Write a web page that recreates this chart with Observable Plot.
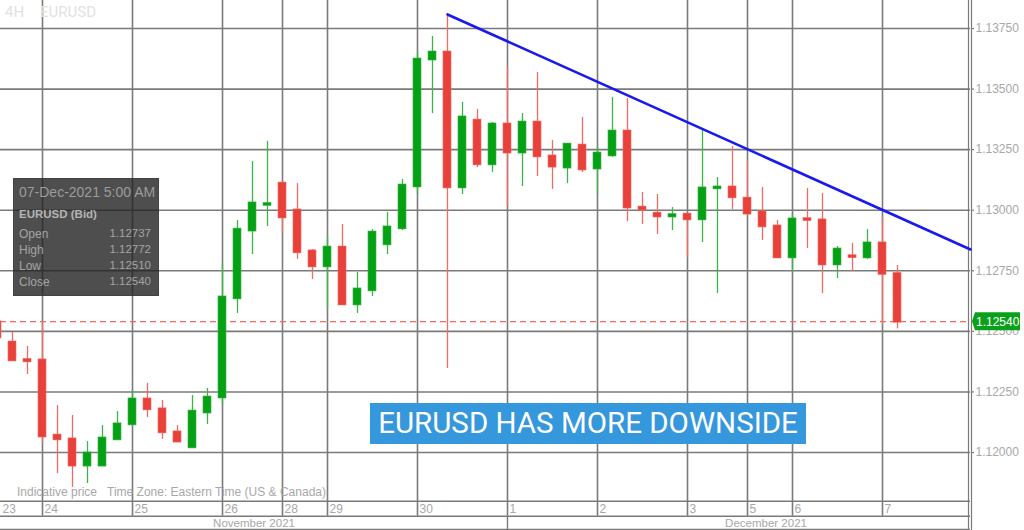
<!DOCTYPE html>
<html>
<head>
<meta charset="utf-8">
<script src="https://cdn.jsdelivr.net/npm/d3@7"></script>
<script src="https://cdn.jsdelivr.net/npm/@observablehq/plot@0.6"></script>
<style>
  html, body { margin: 0; padding: 0; background: #fff; }
  #wrap { position: relative; width: 1024px; height: 530px; overflow: hidden; font-family: "Liberation Sans", Arial, sans-serif; }
  #wrap svg { position: absolute; left: 0; top: 0; }
  .ov { position: absolute; white-space: nowrap; }
</style>
</head>
<body>
<div id="wrap"></div>
<script>
// ---- data (4H EURUSD candles; index 0 = 24 Nov 00:00) ----
const firstIndex = -3;
const opens = [1.12537,1.12454,1.12382,1.12380,1.12070,1.12054,1.11946,1.11946,1.12054,1.12116,1.12219,1.12178,1.12083,1.12021,1.12165,1.12227,1.12636,1.12916,1.13022,1.13110,1.12999,1.12830,1.12768,1.12846,1.12611,1.12669,1.12859,1.12925,1.13098,1.13622,1.13651,1.13094,1.13370,1.13189,1.13354,1.13238,1.13362,1.13222,1.13176,1.13267,1.13172,1.13226,1.13325,1.13011,1.12986,1.12974,1.12982,1.12962,1.13090,1.13094,1.13048,1.12991,1.12933,1.12805,1.12963,1.12958,1.12776,1.12810,1.12805,1.12863,1.12737];
const highs = [1.12545,1.12495,1.12438,1.12541,1.12194,1.12153,1.12045,1.12111,1.12169,1.12256,1.12285,1.12215,1.12111,1.12235,1.12264,1.12780,1.12958,1.13201,1.13284,1.13119,1.13110,1.12838,1.12896,1.12941,1.12743,1.12920,1.12991,1.13127,1.13655,1.13717,1.13808,1.13445,1.13416,1.13362,1.13589,1.13399,1.13568,1.13288,1.13275,1.13383,1.13263,1.13465,1.13461,1.13073,1.13065,1.13011,1.12986,1.13333,1.13135,1.13263,1.13201,1.13094,1.12958,1.12986,1.13090,1.13069,1.12850,1.12863,1.12920,1.12970,1.12772];
const lows = [1.12462,1.12376,1.12322,1.12041,1.11913,1.11856,1.11872,1.11942,1.12052,1.12111,1.12144,1.12054,1.12041,1.12019,1.12116,1.12194,1.12574,1.12817,1.12933,1.12908,1.12797,1.12714,1.12590,1.12607,1.12574,1.12644,1.12817,1.12916,1.13065,1.13399,1.12347,1.13065,1.13176,1.13156,1.13015,1.13098,1.13139,1.13086,1.13110,1.13156,1.13065,1.13218,1.12953,1.12941,1.12900,1.12916,1.12805,1.12867,1.12656,1.13003,1.12978,1.12875,1.12803,1.12739,1.12842,1.12656,1.12718,1.12747,1.12797,1.12528,1.12510];
const closes = [1.12475,1.12380,1.12376,1.12066,1.12054,1.11946,1.11996,1.12058,1.12116,1.12219,1.12178,1.12083,1.12045,1.12169,1.12227,1.12640,1.12920,1.13028,1.13026,1.12970,1.12826,1.12768,1.12846,1.12611,1.12673,1.12908,1.12929,1.13102,1.13622,1.13651,1.13094,1.13383,1.13189,1.13354,1.13238,1.13362,1.13222,1.13180,1.13271,1.13168,1.13234,1.13325,1.13011,1.13003,1.12974,1.12980,1.12962,1.13090,1.13094,1.13053,1.12986,1.12933,1.12805,1.12962,1.12959,1.12776,1.12838,1.12806,1.12863,1.12737,1.12540];

const dayLabels = ["23","24","25","26","28","29","30","1","2","3","5","6","7"];
const dayIndex  = [-6, 0, 6, 12, 16, 19, 25, 31, 37, 43, 47, 50, 56];
const monthLabels = ["November 2021", "December 2021"];
const monthStartIndex = [-30, 31];

const priceTicks = [1.12000, 1.12250, 1.12500, 1.12750, 1.13000, 1.13250, 1.13500, 1.13750];
const trendX = [27, 61.8667];
const trendY = [1.13808, 1.12838];
const lastClose = 1.12540;

const tipTitle = "07-Dec-2021 5:00 AM";
const tipSymbol = "EURUSD (Bid)";
const tipNames = ["Open", "High", "Low", "Close"];
const tipValues = ["1.12737", "1.12772", "1.12510", "1.12540"];

// ---- build ----
const candles = opens.map((o, k) => ({
  i: firstIndex + k, open: o, high: highs[k], low: lows[k], close: closes[k],
  up: closes[k] >= o
}));
const days = dayIndex.map((d, k) => ({i: d, label: dayLabels[k]}));

const xMin = -2.8, xEdge = 61.8667, xFar = 65.47;
const yMin = 1.118019, yMax = 1.138656;
const RED = "#e8403a", GREEN = "#05a114";
const RED_W = "#ef6b63", GREEN_W = "#3cb446";
const GRID = "#7a7a7a";
const half = 0.267;

const months = monthLabels.map((m, k) => {
  const a = Math.max(monthStartIndex[k], xMin);
  const b = k + 1 < monthStartIndex.length ? monthStartIndex[k + 1] : xFar;
  return {label: m, i: (a + b) / 2};
});

const chart = Plot.plot({
  width: 1024, height: 530,
  marginLeft: 0, marginRight: 54, marginTop: 0, marginBottom: 30,
  x: {domain: [xMin, xEdge], axis: null},
  y: {domain: [yMin, yMax], axis: null},
  style: {background: "white", fontFamily: "'Liberation Sans', Arial, sans-serif", overflow: "visible"},
  marks: [
    Plot.ruleY(priceTicks, {x1: xMin, x2: xEdge, stroke: GRID, strokeWidth: 1.6}),
    Plot.ruleX(days.filter(d => d.i > xMin), {x: "i", stroke: GRID, strokeWidth: 1.6, insetBottom: -15.7}),
    Plot.ruleY([yMin], {x1: xMin, x2: xEdge, stroke: GRID, strokeWidth: 1.4, dy: 0.7}),
    Plot.ruleY([yMin], {x1: xMin, x2: xEdge, stroke: GRID, strokeWidth: 1.4, dy: 15.7}),
    Plot.ruleY([yMin], {x1: xMin, x2: xEdge, stroke: GRID, strokeWidth: 1.4, dy: 29}),
    Plot.ruleX([monthStartIndex[1]], {stroke: GRID, strokeWidth: 1.4, insetTop: 515.7, insetBottom: -29}),
    Plot.ruleX([xEdge], {stroke: GRID, strokeWidth: 1.2, dx: -2, insetBottom: -30}),
    Plot.ruleX([xEdge], {stroke: GRID, strokeWidth: 1.2, dx: 1, insetBottom: -30}),
    Plot.ruleY(priceTicks, {x1: xEdge, x2: xEdge + 0.2, stroke: GRID, strokeWidth: 1.2, dx: 1}),
    Plot.text(priceTicks, {x: xEdge, y: d => d, text: d => d.toFixed(5), dx: 5, textAnchor: "start", fill: "#a8a8a8", fontSize: 12}),
    Plot.text(days, {x: d => Math.max(d.i, xMin), y: yMin, text: "label", dx: 2, dy: 8.5, textAnchor: "start", fill: "#a8a8a8", fontSize: 12}),
    Plot.text(months, {x: "i", y: yMin, text: "label", dy: 23, textAnchor: "middle", fill: "#a8a8a8", fontSize: 11.5}),
    Plot.ruleY([lastClose], {x1: xMin, x2: xEdge, stroke: "#f26a62", strokeWidth: 1.3, strokeDasharray: "6,4"}),
    Plot.ruleX(candles, {x: "i", y1: "low", y2: "high", stroke: d => d.up ? GREEN_W : RED_W, strokeWidth: 1.3}),
    Plot.rect(candles, {x1: d => d.i - half, x2: d => d.i + half, y1: "open", y2: "close",
      fill: d => d.up ? GREEN : RED, stroke: d => d.up ? GREEN_W : RED_W, strokeWidth: 0.6, insetTop: -1, insetBottom: -1}),
    Plot.line(trendX.map((x, k) => ({x, y: trendY[k]})), {x: "x", y: "y", stroke: "#1a1aee", strokeWidth: 2.6})
  ]
});

const wrap = document.getElementById("wrap");
wrap.append(chart);

const ys = chart.scale("y"), xs = chart.scale("x");

function ov(html, css) {
  const d = document.createElement("div");
  d.className = "ov";
  d.innerHTML = html;
  Object.assign(d.style, css);
  wrap.append(d);
  return d;
}

ov("4H", {left: "5px", top: "3px", fontFamily: "Roboto, sans-serif", fontSize: "15px", color: "#e2e2e2"});
ov("EURUSD", {left: "40px", top: "3px", fontFamily: "Roboto, sans-serif", fontSize: "15px", color: "#e2e2e2"});

ov("Indicative price", {left: "17px", top: "485px", fontSize: "12px", color: "#a8a8a8"});
ov("Time Zone: Eastern Time (US &amp; Canada)", {left: "107px", top: "485px", fontSize: "12px", color: "#a8a8a8"});

ov("", {left: "13px", top: "178px", width: "146px", height: "118px", background: "rgba(34,34,34,0.8)", border: "1px solid rgba(60,60,60,0.6)", boxSizing: "border-box"});
ov(tipTitle, {left: "19px", top: "184px", fontSize: "14px", color: "#9c9c9c"});
ov(tipSymbol, {left: "19px", top: "208px", fontSize: "11.5px", fontWeight: "bold", color: "#b4b4b4"});
tipNames.forEach((n, k) => {
  const top = 227 + k * 16;
  ov(n, {left: "19px", top: top + "px", fontSize: "12px", color: "#a4a4a4"});
  ov(tipValues[k], {left: "100px", width: "51px", textAlign: "right", top: top + "px", fontSize: "11.5px", color: "#a4a4a4"});
});

ov("EURUSD HAS MORE DOWNSIDE", {left: "370px", top: "403px", width: "436px", height: "41px", lineHeight: "41px", textAlign: "center",
  background: "#3597dc", color: "#ffffff", fontFamily: "Roboto, sans-serif", fontSize: "29.5px"});

// last price tag
const py = ys.apply(lastClose);
const tagX = xs.apply(xEdge) + 2;
const svgNS = "http://www.w3.org/2000/svg";
const g = document.createElementNS(svgNS, "g");
const poly = document.createElementNS(svgNS, "polygon");
poly.setAttribute("points", `${tagX},${py} ${tagX + 3},${py - 9} ${tagX + 48},${py - 9} ${tagX + 48},${py + 9} ${tagX + 3},${py + 9}`);
poly.setAttribute("fill", "#0aa11a");
g.append(poly);
const t = document.createElementNS(svgNS, "text");
t.setAttribute("x", tagX + 4);
t.setAttribute("y", py + 4.5);
t.setAttribute("fill", "#ffffff");
t.setAttribute("font-size", "12");
t.setAttribute("text-anchor", "start");
t.setAttribute("font-family", "'Liberation Sans', Arial, sans-serif");
t.textContent = lastClose.toFixed(5);
g.append(t);
chart.append(g);
</script>
</body>
</html>
